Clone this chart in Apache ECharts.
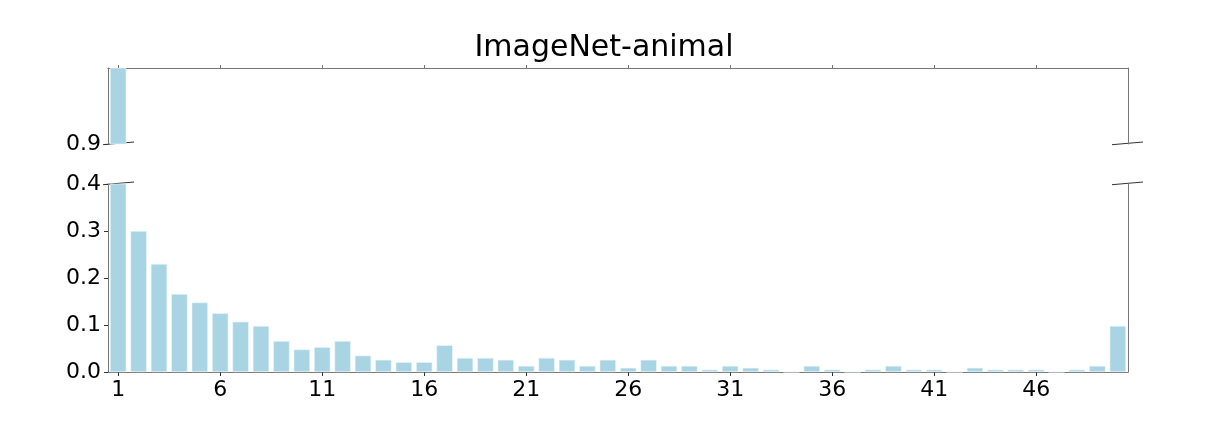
<!DOCTYPE html>
<html>
<head>
<meta charset="utf-8">
<script src="https://cdn.jsdelivr.net/npm/echarts@6/dist/echarts.min.js"></script>
<style>
  html, body { margin: 0; padding: 0; background: #fff; }
  #chart { width: 1208px; height: 433px; }
</style>
</head>
<body>
<div id="chart"></div>
<script>
// data
const categories = [];
for (let i = 1; i <= 50; i++) categories.push(String(i));
const values = [
  0.97, 0.30, 0.23, 0.166, 0.148, 0.125, 0.107, 0.098, 0.066, 0.048,
  0.053, 0.066, 0.035, 0.026, 0.021, 0.021, 0.057, 0.030, 0.030, 0.026,
  0.013, 0.030, 0.026, 0.013, 0.026, 0.009, 0.026, 0.013, 0.013, 0.005,
  0.013, 0.009, 0.005, 0, 0.013, 0.005, 0, 0.005, 0.013, 0.005,
  0.005, 0, 0.009, 0.005, 0.005, 0.005, 0, 0.005, 0.013, 0.098
];
const topRange = [0.9, 0.97];
const bottomRange = [0, 0.4];
const bottomTicks = [0, 0.1, 0.2, 0.3, 0.4];

const font = "DejaVu Sans";
const barColor = "#a8d4e4";
const spine = "#777";

// layout
const left = 108, width = 1020;
const topGrid = { top: 68, height: 76 };
const botGrid = { top: 184, height: 188 };

const chart = echarts.init(document.getElementById("chart"));

function yLine(gridIndex, pos) {
  return {
    type: "value", gridIndex: gridIndex, position: pos,
    axisLine: { show: true, lineStyle: { color: spine, width: 1 } },
    axisTick: { show: false }, axisLabel: { show: false },
    splitLine: { show: false }
  };
}

function brk(x0, y0, len) {
  return {
    type: "line", silent: true,
    shape: { x1: x0, y1: y0 + 0.7, x2: x0 + len, y2: y0 - 2 },
    style: { stroke: "#333", lineWidth: 1 }
  };
}

chart.setOption({
  animation: false,
  title: {
    text: "ImageNet-animal", left: "center", top: 28,
    textStyle: { fontFamily: font, fontSize: 30, fontWeight: "normal", color: "#000" }
  },
  grid: [
    { left: left, width: width, top: topGrid.top, height: topGrid.height },
    { left: left, width: width, top: botGrid.top, height: botGrid.height }
  ],
  xAxis: [
    {
      type: "category", gridIndex: 0, data: categories, position: "top",
      boundaryGap: true,
      axisLine: { show: true, lineStyle: { color: spine } },
      axisTick: { show: true, interval: 4, alignWithLabel: true, length: 3, lineStyle: { color: spine } },
      axisLabel: { show: false, interval: 4 }
    },
    {
      type: "category", gridIndex: 1, data: categories, position: "bottom",
      boundaryGap: true,
      axisLine: { show: true, lineStyle: { color: spine } },
      axisTick: { show: true, interval: 4, alignWithLabel: true, length: 4, lineStyle: { color: "#333" } },
      axisLabel: { interval: 4, margin: 7, fontFamily: font, fontSize: 22, color: "#000" }
    }
  ],
  yAxis: [
    {
      type: "value", gridIndex: 0, min: topRange[0], max: topRange[1],
      axisLine: { show: true, lineStyle: { color: spine } },
      axisTick: { show: true, length: 4, customValues: [topRange[0]], lineStyle: { color: "#333" } },
      axisLabel: { customValues: [topRange[0]], margin: 7, fontFamily: font, fontSize: 22, color: "#000",
                   formatter: v => v.toFixed(1) },
      splitLine: { show: false }
    },
    {
      type: "value", gridIndex: 1, min: bottomRange[0], max: bottomRange[1], interval: 0.1,
      axisLine: { show: true, lineStyle: { color: spine } },
      axisTick: { show: true, length: 4, customValues: bottomTicks, lineStyle: { color: "#333" } },
      axisLabel: { customValues: bottomTicks, margin: 7, fontFamily: font, fontSize: 22, color: "#000",
                   formatter: v => v.toFixed(1) },
      splitLine: { show: false }
    },
    Object.assign(yLine(0, "right"), { min: topRange[0], max: topRange[1] }),
    Object.assign(yLine(1, "right"), { min: bottomRange[0], max: bottomRange[1] })
  ],
  series: [
    {
      type: "bar", xAxisIndex: 0, yAxisIndex: 0, clip: true,
      data: values.map(v => (v >= topRange[0] ? v : "-")),
      barCategoryGap: "20%",
      itemStyle: { color: barColor, borderColor: "#eef7fa", borderWidth: 0.6 }
    },
    {
      type: "bar", xAxisIndex: 1, yAxisIndex: 1, clip: true,
      data: values,
      barCategoryGap: "20%",
      itemStyle: { color: barColor, borderColor: "#eef7fa", borderWidth: 0.6 }
    }
  ],
  graphic: [
    brk(left - 5, topGrid.top + topGrid.height, 31),
    brk(left - 5, botGrid.top, 31),
    brk(left + width - 16, topGrid.top + topGrid.height, 31),
    brk(left + width - 16, botGrid.top, 31)
  ]
});
</script>
</body>
</html>
